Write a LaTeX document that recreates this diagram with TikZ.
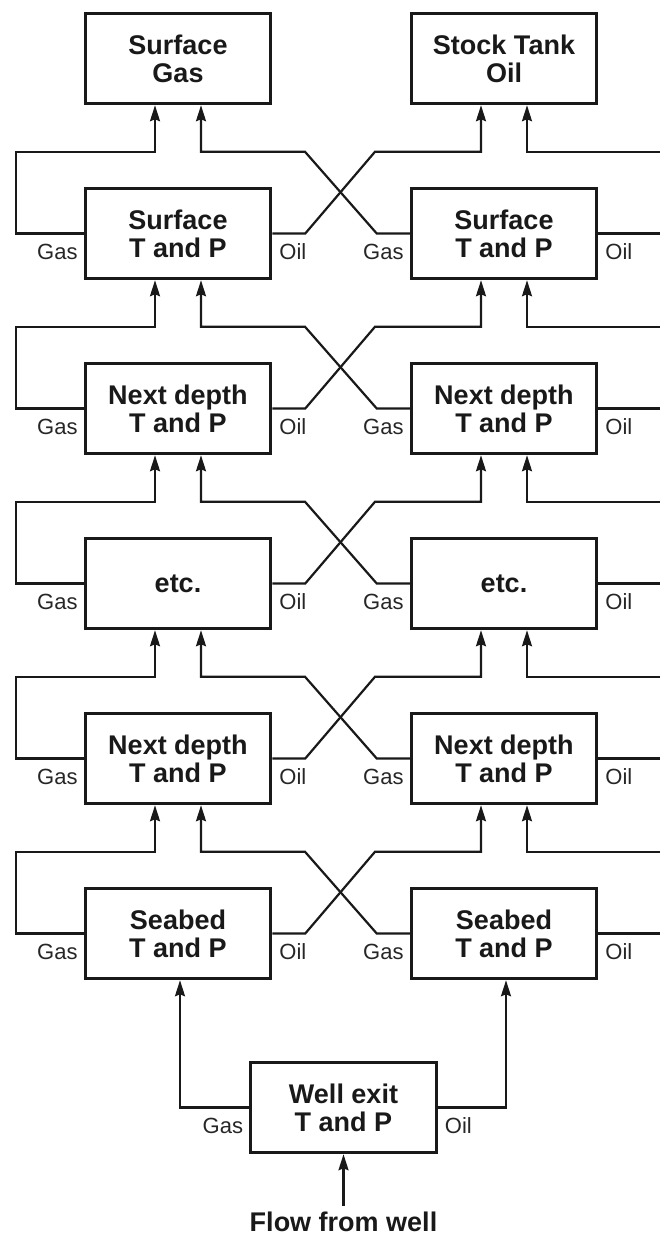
\documentclass[tikz,border=0pt]{standalone}
\usepackage{fontspec}
\setmainfont{Liberation Sans}
\usetikzlibrary{arrows.meta}

\begin{document}
\begin{tikzpicture}[x=1pt,y=-1pt,
  box/.style={draw=black!90,line width=3pt,minimum width=185.5pt,minimum height=90.5pt,
    inner sep=0pt,align=center,text=black!90,font=\fontsize{27}{28}\selectfont\bfseries},
  lbl/.style={inner sep=0pt,text=black!85,font=\fontsize{22}{22}\selectfont},
  pipe/.style={draw=black!90,line width=2.2pt},
  flow/.style={pipe,-{Stealth[length=16pt,width=10pt,inset=2pt]}}]
\useasboundingbox (0,0) rectangle (660,1235);
\clip (0,0) rectangle (660,1235);

% top row
\node[box] (L0) at (178,58.5) {Surface\\Gas};
\node[box] (R0) at (504,58.5) {Stock Tank\\Oil};

% separator stages
\foreach \r/\txt in {1/{Surface\\T and P},2/{Next depth\\T and P},3/{etc.},4/{Next depth\\T and P},5/{Seabed\\T and P}}
{\node[box] (L\r) at (178,58.5+175*\r) {\txt};
\node[box] (R\r) at (504,58.5+175*\r) {\txt};
\node[lbl,anchor=north east] at ([xshift=-6pt,yshift=-10pt]L\r.west) {Gas};
\node[lbl,anchor=north west] at ([xshift=7pt,yshift=-10pt]L\r.east) {Oil};
\node[lbl,anchor=north east] at ([xshift=-6pt,yshift=-10pt]R\r.west) {Gas};
\node[lbl,anchor=north west] at ([xshift=7pt,yshift=-10pt]R\r.east) {Oil};}

% gas and oil to the stage above
\foreach \r/\u in {1/0,2/1,3/2,4/3,5/4}
{\draw[flow] (L\r.west) -- ++(-68,0) |- ([xshift=-23pt,yshift=35pt]L\r.north) -- ([xshift=-23pt]L\u.south);
\draw[flow] (L\r.east) -- ++(33,0) -- ([xshift=-129pt,yshift=35pt]R\r.north) -- ([xshift=-23pt,yshift=35pt]R\r.north) -- ([xshift=-23pt]R\u.south);
\draw[flow] (R\r.west) -- ++(-33,0) -- ([xshift=127pt,yshift=35pt]L\r.north) -- ([xshift=23pt,yshift=35pt]L\r.north) -- ([xshift=23pt]L\u.south);
\draw[flow] (R\r.east) -- ++(80,0) |- ([xshift=23pt,yshift=35pt]R\r.north) -- ([xshift=23pt]R\u.south);}

% well exit
\node[box] (well) at (343.5,1107.5) {Well exit\\T and P};
\node[lbl,anchor=north east] at ([xshift=-6pt,yshift=-10pt]well.west) {Gas};
\node[lbl,anchor=north west] at ([xshift=7pt,yshift=-10pt]well.east) {Oil};
\draw[flow] (well.west) -| ([xshift=2pt]L5.south);
\draw[flow] (well.east) -| ([xshift=2pt]R5.south);

\node[inner sep=0pt,text=black!90,font=\fontsize{27}{28}\selectfont\bfseries] (src) at (343.5,1222) {Flow from well};
\draw[flow] ([yshift=6pt]src.north) -- (well.south);

\end{tikzpicture}
\end{document}
